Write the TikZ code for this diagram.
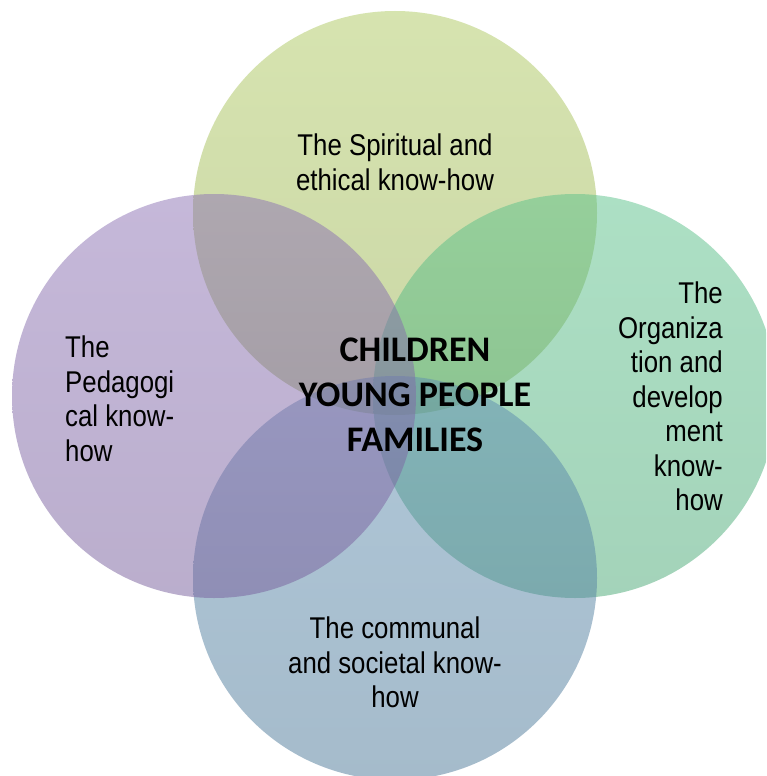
\documentclass[tikz,border=0pt]{standalone}
\usepackage{fontspec}
\setmainfont{Liberation Sans}[FakeStretch=0.86]
\newfontfamily\centerfont{Carlito}
\definecolor{cTop}{RGB}{171,199,89}
\definecolor{cRight}{RGB}{83,191,133}
\definecolor{cBottom}{RGB}{87,137,173}
\definecolor{cLeft}{RGB}{135,107,177}
\begin{document}
\begin{tikzpicture}[x=1pt,y=-1pt,
  venn/.style={circle, draw=none, minimum size=404pt, inner sep=0pt, fill opacity=0.5,
    top color=#1!95!white, bottom color=#1!88!black},
  lbl/.style={inner sep=0pt, font=\fontsize{30}{34.5}\selectfont, text=black},
  mid/.style={inner sep=0pt, font=\centerfont\bfseries\fontsize{36}{45}\selectfont, align=center, text=black}]
\useasboundingbox (0,0) rectangle (766,776);
\clip (0,0) rectangle (766,776);
\fill[white] (0,0) rectangle (766,776);
\node[venn=cTop]    (ctop)    at (395,213) {};
\node[venn=cRight]  (cright)  at (575,396) {};
\node[venn=cBottom] (cbottom) at (395,578) {};
\node[venn=cLeft]   (cleft)   at (214,396) {};
\node[lbl, align=center, anchor=north] (ttop) at (395,134) {The Spiritual and\\ethical know-how};
\node[lbl, align=left, anchor=north west] (tleft) at (65,336) {The\\Pedagogi\\cal know-\\how};
\node[lbl, align=right, anchor=north east] (tright) at (723,282) {The\\Organiza\\tion and\\develop\\ment\\know-\\how};
\node[lbl, align=center, anchor=north] (tbottom) at (395,617) {The communal\\and societal know-\\how};
\node[mid, anchor=north] (tmid) at (415,338) {CHILDREN\\YOUNG PEOPLE\\FAMILIES};
\end{tikzpicture}
\end{document}
